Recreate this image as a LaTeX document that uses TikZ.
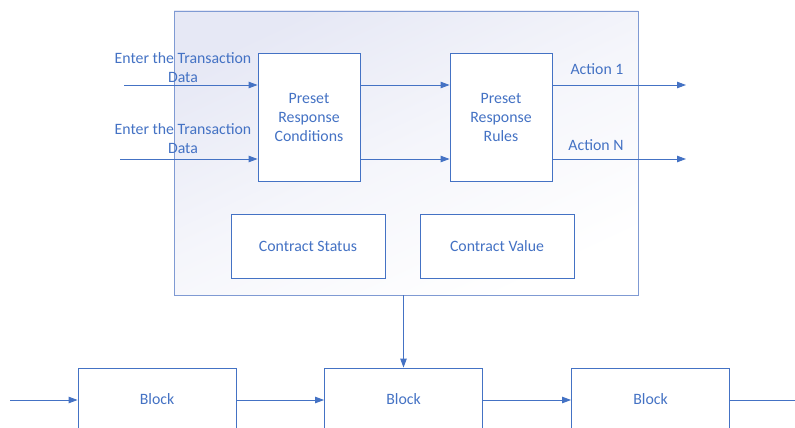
\documentclass[tikz,border=0pt]{standalone}
\usepackage{fontspec}
\setmainfont{Carlito}
\usetikzlibrary{arrows.meta}
\definecolor{lineblue}{HTML}{4472C4}
\definecolor{frameblue}{HTML}{7F9AD3}
\definecolor{tint}{HTML}{E6E8F5}
\tikzset{
   box/.style={draw=lineblue,fill=white,line width=0.9pt,text=lineblue,
      align=center,inner sep=0pt,font=\fontsize{15.8}{19}\selectfont},
   flow/.style={draw=lineblue,line width=0.9pt,-{Triangle[length=9pt,width=6.5pt]}},
   lbl/.style={text=lineblue,align=center,inner sep=0pt,
      font=\fontsize{15.8}{19}\selectfont}
}
\begin{document}
\begin{tikzpicture}[x=1pt,y=-1pt]
   \useasboundingbox (0,0) rectangle (795,428);

   \shade[top color=tint,bottom color=white,middle color=tint!40,shading angle=25]
   (174,11) rectangle (638,295);
   \node[draw=frameblue,line width=0.9pt,minimum width=464pt,minimum height=284pt,
      inner sep=0pt] (contract) at (406,153) {};

   \node[box,minimum width=102pt,minimum height=128pt] (cond) at (309,117)
      {Preset\\Response\\Conditions};
   \node[box,minimum width=102pt,minimum height=128pt] (rules) at (501,117)
      {Preset\\Response\\Rules};
   \node[box,minimum width=154pt,minimum height=64pt] (status) at (308,246)
      {Contract Status};
   \node[box,minimum width=154pt,minimum height=64pt] (value) at (497,246)
      {Contract Value};

   \coordinate (in1) at (124,85);
   \coordinate (in2) at (120,159);
   \coordinate (out1) at (686,85);
   \coordinate (out2) at (686,159);

   \draw[flow] (in1) -- (in1 -| cond.west);
   \draw[flow] (in2) -- (in2 -| cond.west);
   \draw[flow] (in1 -| cond.east) -- (in1 -| rules.west);
   \draw[flow] (in2 -| cond.east) -- (in2 -| rules.west);
   \draw[flow] (out1 -| rules.east) -- (out1);
   \draw[flow] (out2 -| rules.east) -- (out2);

   \node[lbl] (enter1) at (183,68) {Enter the Transaction\\Data};
   \node[lbl] (enter2) at (183,139) {Enter the Transaction\\Data};
   \node[lbl] (act1) at (597,69) {Action 1};
   \node[lbl] (actn) at (596,145) {Action N};

   % chain of blocks along the bottom
   \node[box,minimum width=158pt,minimum height=62pt] (blk1) at (157,399) {Block};
   \node[box,minimum width=158pt,minimum height=62pt] (blk2) at (403.5,399) {Block};
   \node[box,minimum width=158pt,minimum height=62pt] (blk3) at (650.5,399) {Block};

   \coordinate (chainin) at (10,400);
   \coordinate (chainout) at (805,400);

   \draw[flow] (blk2.north |- contract.south) -- (blk2.north);
   \draw[flow] (chainin) -- (chainin -| blk1.west);
   \draw[flow] (blk1.east |- chainin) -- (chainin -| blk2.west);
   \draw[flow] (blk2.east |- chainin) -- (chainin -| blk3.west);
   \draw[flow] (blk3.east |- chainin) -- (chainout);
\end{tikzpicture}
\end{document}
